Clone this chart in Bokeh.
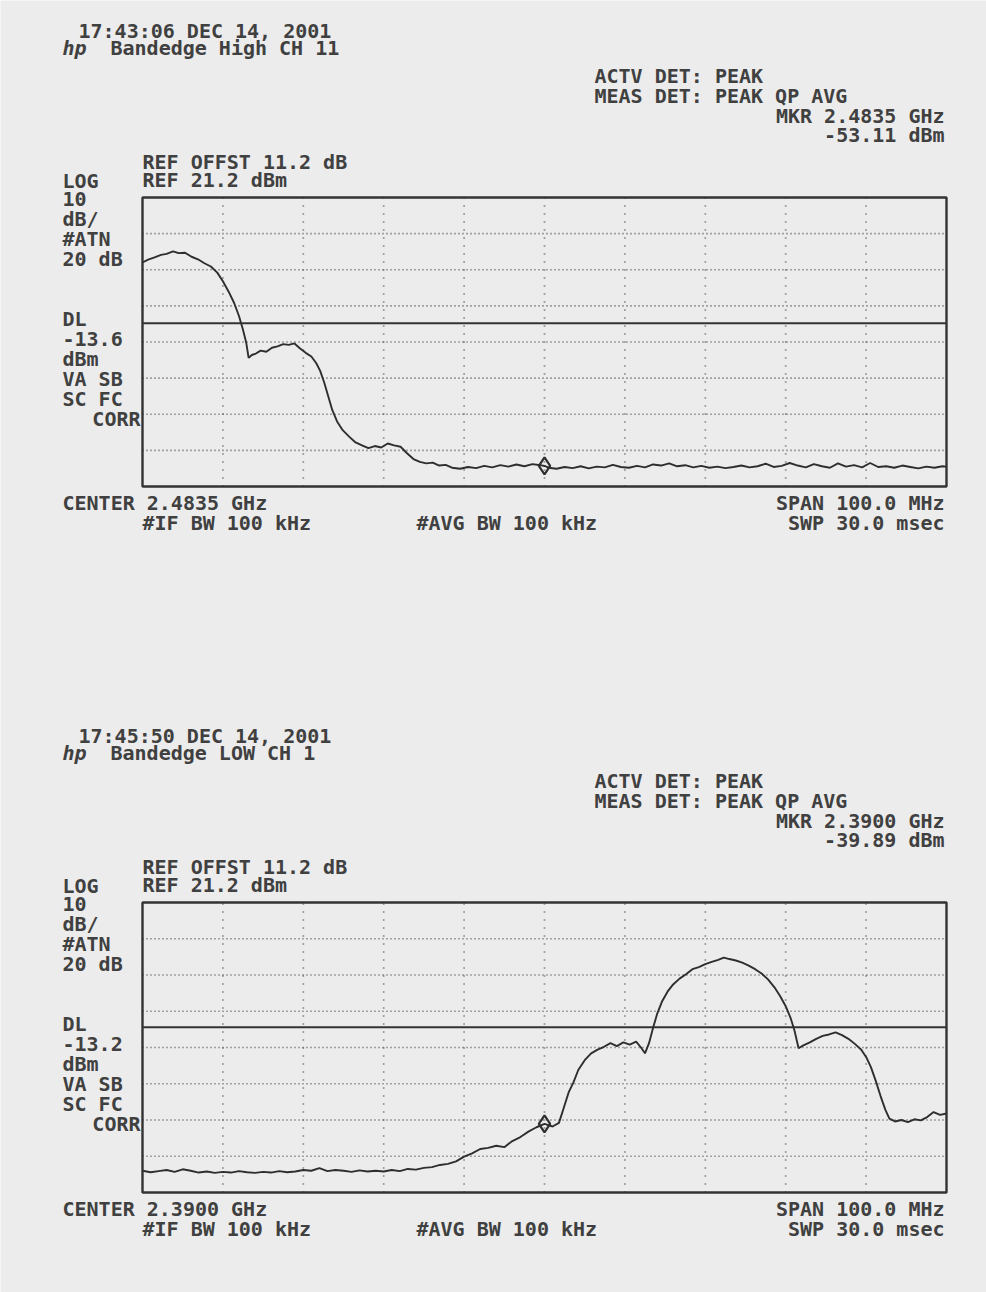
from bokeh.plotting import figure
from bokeh.models import Range1d
from bokeh.core.properties import value
from bokeh.embed import file_html
from bokeh.resources import INLINE

# ---------------- data ----------------
REF_LEVEL = 21.2          # dBm, top of screen
DB_PER_DIV = 10
N_YDIV = 8
N_XDIV = 10
SPAN_MHZ = 100.0

hi_center = 2483.5
hi_dl = -13.6
hi_marker_f = 2483.5
hi_marker_db = -53.11

lo_center = 2390.0
lo_dl = -13.2
lo_marker_f = 2390.0
lo_marker_db = -39.89

hi_freq = [2433.5, 2434.2, 2435.0, 2435.8, 2436.5, 2437.3, 2438.0, 2438.8, 2439.6, 2440.4,
           2441.2, 2442.0, 2442.8, 2443.5, 2444.2, 2444.9, 2445.5, 2446.0, 2446.4, 2446.7,
           2447.1, 2447.6, 2448.2, 2448.9, 2449.6, 2450.3, 2451.0, 2451.7, 2452.4, 2453.1,
           2453.8, 2454.5, 2455.1, 2455.6, 2456.1, 2456.6, 2457.1, 2457.7, 2458.4, 2459.2,
           2460.0, 2460.8, 2461.6, 2462.4, 2463.2, 2464.0, 2464.8, 2465.6, 2466.4, 2467.2,
           2468.0, 2468.8, 2469.6, 2470.4, 2471.2, 2472.0,
           2473, 2474, 2475, 2476, 2477, 2478, 2479, 2480, 2481, 2482, 2483, 2483.5,
           2484, 2485, 2486, 2487, 2488, 2489, 2490, 2491, 2492, 2493, 2494, 2495,
           2496, 2497, 2498, 2499, 2500, 2501, 2502, 2503, 2504, 2505, 2506, 2507,
           2508, 2509, 2510, 2511, 2512, 2513, 2514, 2515, 2516, 2517, 2518, 2519,
           2520, 2521, 2522, 2523, 2524, 2525, 2526, 2527, 2528, 2529, 2530, 2531,
           2532, 2533, 2533.5]
hi_dbm = [3.2, 4.0, 4.6, 5.3, 5.6, 6.3, 5.8, 5.9, 4.8, 4.1,
          3.0, 2.1, 0.4, -2.0, -4.8, -8.0, -11.6, -15.4, -19.0, -23.2,
          -22.4, -22.0, -21.2, -21.5, -20.4, -20.0, -19.4, -19.6, -19.2, -20.6,
          -21.8, -22.8, -24.6, -26.8, -30.0, -33.8, -37.6, -40.8, -43.2, -45.0,
          -46.6, -47.4, -48.2, -47.6, -48.0, -46.9, -47.4, -47.8, -49.6, -51.2,
          -52.0, -52.4, -52.2, -53.0, -52.8, -53.6,
          -53.9, -53.4, -53.7, -53.1, -53.5, -52.9, -53.3, -52.7, -53.2, -52.6, -52.9, -53.11,
          -53.6, -53.9, -53.4, -53.7, -53.2, -53.8, -53.3, -53.5, -52.8, -53.4, -53.6, -53.1,
          -53.5, -52.7, -53.0, -52.4, -53.2, -52.9, -53.5, -53.1, -53.6, -53.3, -53.7, -53.4,
          -53.0, -53.5, -53.2, -52.5, -53.4, -53.1, -52.3, -53.0, -53.5, -52.6, -53.2, -53.6,
          -52.4, -53.3, -52.9, -53.5, -52.3, -53.4, -53.2, -53.6, -53.0, -53.4, -53.8, -53.3,
          -53.6, -53.2, -53.3]

lo_freq = [2340, 2341, 2342, 2343, 2344, 2345, 2346, 2347, 2348, 2349, 2350, 2351, 2352,
           2353, 2354, 2355, 2356, 2357, 2358, 2359, 2360, 2361, 2362, 2363, 2364, 2365,
           2366, 2367, 2368, 2369, 2370, 2371, 2372, 2373, 2374, 2375, 2376, 2377, 2378,
           2379, 2380, 2381, 2382, 2383, 2384, 2385, 2386, 2387, 2388, 2389, 2390, 2391,
           2391.8, 2392.4, 2393.0, 2393.6, 2394.2, 2395.0, 2395.8, 2396.6, 2397.4, 2398.2,
           2399.0, 2399.8, 2400.6, 2401.4, 2402.0, 2402.5, 2403.0, 2403.5, 2404.0, 2404.6,
           2405.3, 2406.0, 2406.8, 2407.6, 2408.4, 2409.2, 2410.0, 2410.8, 2411.6, 2412.3,
           2413.0, 2413.8, 2414.6, 2415.4, 2416.2, 2417.0, 2417.8, 2418.6, 2419.3, 2420.0,
           2420.6, 2421.1, 2421.6, 2422.2, 2423.0, 2423.8, 2424.6, 2425.4, 2426.2, 2427.0,
           2427.8, 2428.6, 2429.4, 2430.0, 2430.6, 2431.2, 2431.8, 2432.4, 2432.9, 2433.6,
           2434.4, 2435.2, 2436.0, 2436.8, 2437.6, 2438.4, 2439.2, 2440.0]
lo_dbm = [-52.8, -53.2, -52.9, -52.6, -53.1, -52.4, -52.8, -53.3, -53.0, -53.4, -53.1, -53.3, -52.9,
          -53.2, -53.4, -53.1, -53.3, -52.9, -53.2, -53.0, -52.6, -52.8, -52.1, -52.9, -52.6, -52.8,
          -53.1, -52.7, -53.0, -52.8, -53.0, -52.6, -52.9, -52.3, -52.5, -52.0, -51.8, -51.2, -50.9,
          -50.2, -48.9, -48.0, -46.8, -46.5, -45.9, -46.3, -44.6, -43.5, -42.0, -40.8, -39.89, -40.6,
          -39.6, -35.4, -31.2, -28.4, -25.0, -22.3, -20.4, -19.4, -18.6, -17.6,
          -18.4, -17.4, -18.0, -17.2, -18.8, -20.4, -17.6, -13.4, -9.6, -6.2,
          -3.4, -1.4, 0.2, 1.4, 2.8, 3.4, 4.2, 4.8, 5.4, 6.0,
          5.6, 5.2, 4.6, 3.8, 2.8, 1.6, 0.0, -2.2, -4.6, -7.4,
          -10.6, -14.2, -19.0, -18.2, -17.4, -16.4, -15.6, -15.2, -14.6, -15.4,
          -16.4, -17.8, -19.4, -21.4, -24.2, -28.0, -32.2, -36.0, -38.4, -39.2,
          -38.8, -39.4, -38.6, -38.9, -38.0, -36.6, -37.4, -37.0]

hi_texts = {"time": "17:43:06 DEC 14, 2001", "title": "Bandedge High CH 11",
            "mkr_f": "MKR 2.4835 GHz", "mkr_db": "-53.11 dBm", "dl": "-13.6",
            "center": "CENTER 2.4835 GHz"}
lo_texts = {"time": "17:45:50 DEC 14, 2001", "title": "Bandedge LOW CH 1",
            "mkr_f": "MKR 2.3900 GHz", "mkr_db": "-39.89 dBm", "dl": "-13.2",
            "center": "CENTER 2.3900 GHz"}

# ---------------- layout / styling ----------------
PAPER = "#ececec"
INK = "#404040"
TRACE = "#2e2e2e"
FONT = "DejaVu Sans Mono"
FS = "20px"
W, H = 986, 1292
BOX_L, BOX_R = 142, 946          # screen box edges (page px)

p = figure(width=W, height=H, x_axis_type=None, y_axis_type=None, title=None,
           toolbar_location=None, output_backend="svg", min_border=0)
p.min_border_left = p.min_border_right = p.min_border_top = p.min_border_bottom = 0
p.grid.visible = False
p.background_fill_color = PAPER
p.border_fill_color = PAPER
p.outline_line_color = None


def make_panel(center, freq, dbm, dl, mk_f, mk_db, texts, box_top, box_bot, name):
    x0 = center - SPAN_MHZ / 2
    x1 = center + SPAN_MHZ / 2
    y1 = REF_LEVEL
    y0 = REF_LEVEL - DB_PER_DIV * N_YDIV
    sx = (BOX_R - BOX_L) / SPAN_MHZ           # px per MHz
    sy = (box_bot - box_top) / (y1 - y0)      # px per dB
    xr = Range1d(x0 - BOX_L / sx, x1 + (W - BOX_R) / sx)
    yr = Range1d(y0 - (H - box_bot) / sy, y1 + box_top / sy)
    if name == "default":
        p.x_range = xr
        p.y_range = yr
    else:
        p.extra_x_ranges[name] = xr
        p.extra_y_ranges[name] = yr
    kw = dict(x_range_name=name, y_range_name=name)

    def dx(px):
        return x0 + (px - BOX_L) / sx

    def dy(py):
        return y1 - (py - box_top) / sy

    # graticule
    xt = [x0 + i * SPAN_MHZ / N_XDIV for i in range(1, N_XDIV)]
    yt = [y0 + i * DB_PER_DIV for i in range(1, N_YDIV)]
    p.segment(x0=xt, y0=[y0] * len(xt), x1=xt, y1=[y1] * len(xt),
              line_color="#555555", line_width=1.7, line_dash="1 7", **kw)
    p.segment(x0=[x0] * len(yt), y0=yt, x1=[x1] * len(yt), y1=yt,
              line_color="#555555", line_width=1.7, line_dash="1 3", **kw)

    # display line
    p.line([x0, x1], [dl, dl], line_color="#333333", line_width=2, **kw)
    # trace
    p.line(freq, dbm, line_color=TRACE, line_width=1.9, **kw)
    # marker
    p.scatter([mk_f], [mk_db], marker="diamond", size=17, fill_color=None,
              line_color=TRACE, line_width=2.2, **kw)
    # screen box
    p.quad(left=[x0], right=[x1], bottom=[y0], top=[y1], fill_color=None,
           line_color="#333333", line_width=2.4, **kw)

    T = box_top
    B = box_bot
    items = [
        (texts["time"], 78, T - 167, "left", "bold"),
        ("hp", 62, T - 150, "left", "bold italic"),
        (texts["title"], 110, T - 150, "left", "bold"),
        ("ACTV DET: PEAK", 594, T - 122, "left", "bold"),
        ("MEAS DET: PEAK QP AVG", 594, T - 102, "left", "bold"),
        (texts["mkr_f"], 944, T - 82, "right", "bold"),
        (texts["mkr_db"], 944, T - 63, "right", "bold"),
        ("REF OFFST 11.2 dB", 142, T - 36, "left", "bold"),
        ("REF 21.2 dBm", 142, T - 18, "left", "bold"),
        ("LOG", 62, T - 17, "left", "bold"),
        ("10", 62, T + 1, "left", "bold"),
        ("dB/", 62, T + 21, "left", "bold"),
        ("#ATN", 62, T + 41, "left", "bold"),
        ("20 dB", 62, T + 61, "left", "bold"),
        ("DL", 62, T + 121, "left", "bold"),
        (texts["dl"], 62, T + 141, "left", "bold"),
        ("dBm", 62, T + 161, "left", "bold"),
        ("VA SB", 62, T + 181, "left", "bold"),
        ("SC FC", 62, T + 201, "left", "bold"),
        ("CORR", 140, T + 221, "right", "bold"),
        (texts["center"], 62, B + 16, "left", "bold"),
        ("SPAN 100.0 MHz", 944, B + 16, "right", "bold"),
        ("#IF BW 100 kHz", 142, B + 36, "left", "bold"),
        ("#AVG BW 100 kHz", 416, B + 36, "left", "bold"),
        ("SWP 30.0 msec", 944, B + 36, "right", "bold"),
    ]
    for align in ("left", "right"):
        for style in ("bold", "bold italic"):
            sel = [it for it in items if it[3] == align and it[4] == style]
            if not sel:
                continue
            p.text(x=[dx(it[1]) for it in sel], y=[dy(it[2]) for it in sel],
                   text=[it[0] for it in sel], text_font=value(FONT),
                   text_font_size=FS, text_font_style=style, text_color=INK,
                   text_align=align, text_baseline="middle", **kw)


make_panel(hi_center, hi_freq, hi_dbm, hi_dl, hi_marker_f, hi_marker_db,
           hi_texts, box_top=197, box_bot=486, name="default")
make_panel(lo_center, lo_freq, lo_dbm, lo_dl, lo_marker_f, lo_marker_db,
           lo_texts, box_top=902, box_bot=1192, name="lo")

open("out.html", "w").write(file_html(p, INLINE))
